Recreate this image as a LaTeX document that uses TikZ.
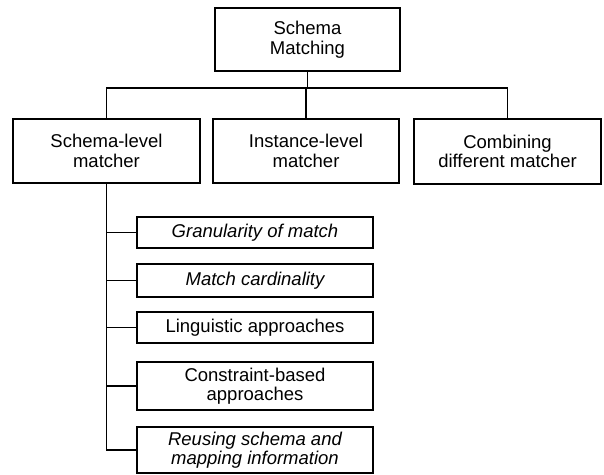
\documentclass[tikz,border=0pt]{standalone}
\usepackage{fontspec}
\setmainfont{Liberation Sans}
\begin{document}
\begin{tikzpicture}[x=1pt,y=-1pt,
  box/.style={draw, line width=1.1pt, rectangle, align=center, inner sep=0pt,
    font=\fontsize{18.5}{19.5}\selectfont},
  conn/.style={line width=1.1pt}]
\useasboundingbox (0,0) rectangle (604,474);
\node[box, minimum width=185pt, minimum height=63pt] (top) at (307.5,39.5) {Schema\\Matching};
\node[box, minimum width=187pt, minimum height=64pt] (sl) at (106.5,151) {Schema-level\\matcher};
\node[box, minimum width=186pt, minimum height=64pt] (il) at (306,151) {Instance-level\\matcher};
\node[box, minimum width=187pt, minimum height=65pt] (cm) at (507.5,151.5) {Combining\\different matcher};
\node[box, minimum width=236pt, minimum height=31pt] (g) at (255,232.5) {\itshape Granularity of match};
\node[box, minimum width=236pt, minimum height=33pt] (mc) at (255,280.5) {\itshape Match cardinality};
\node[box, minimum width=236pt, minimum height=31pt] (li) at (255,327.5) {Linguistic approaches};
\node[box, minimum width=236pt, minimum height=48pt] (cb) at (255,386) {Constraint-based\\approaches};
\node[box, minimum width=236pt, minimum height=46pt] (re) at (255,450) {\itshape Reusing schema and\\\itshape mapping information};
\coordinate (bus) at (307.5,88);
\draw[conn] (top.south) -- (bus);
\draw[conn] (sl.north) |- (bus) -| (cm.north);
\draw[conn] (il.north) -- (il.north |- bus);
\draw[conn] (sl.south) |- (re.west);
\draw[conn] (g.west) -- (g.west -| sl.south);
\draw[conn] (mc.west) -- (mc.west -| sl.south);
\draw[conn] (li.west) -- (li.west -| sl.south);
\draw[conn] (cb.west) -- (cb.west -| sl.south);
\end{tikzpicture}
\end{document}
